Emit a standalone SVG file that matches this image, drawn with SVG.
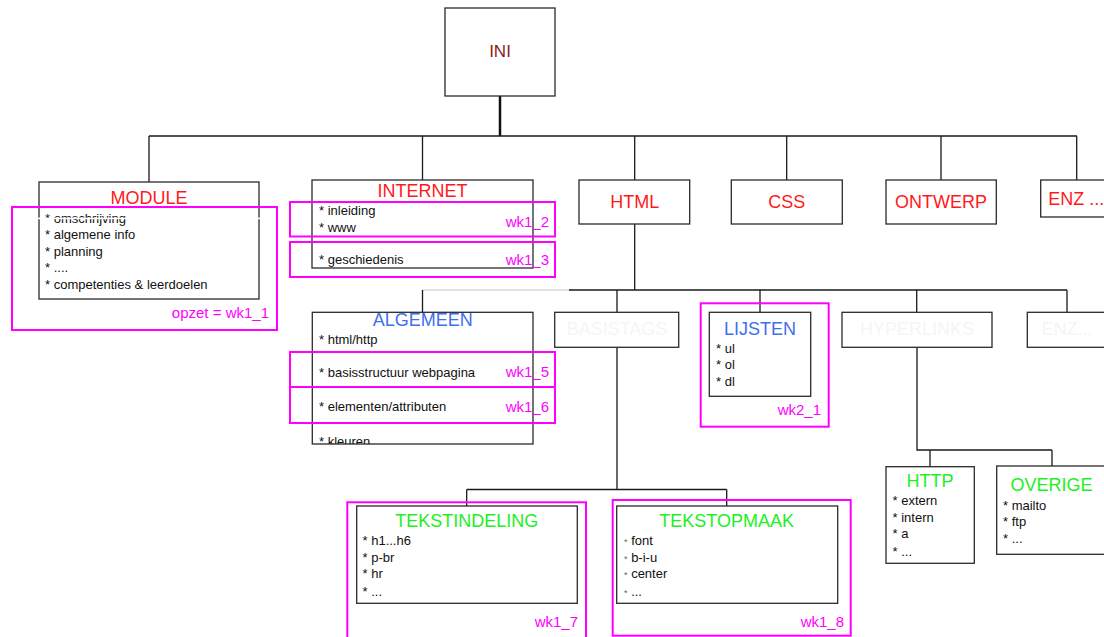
<svg xmlns="http://www.w3.org/2000/svg" width="1104" height="637" viewBox="0 0 1104 637">
<defs>
<style>
.box{fill:#fff;stroke:#2a2a2a;stroke-width:1.3}
.mag{fill:none;stroke:#ff00ff;stroke-width:2}
.con{fill:none;stroke:#1a1a1a;stroke-width:1.3}
.t{font-family:"Liberation Sans",Arial,sans-serif;font-size:18px;text-anchor:middle}
.red{fill:#ff1a1a}
.blue{fill:#3f6fee}
.green{fill:#1df01d}
.ghost{fill:#f5f5f5}
.it{font-family:"Liberation Sans",Arial,sans-serif;font-size:13px;fill:#111}
.lab{font-family:"Liberation Sans",Arial,sans-serif;font-size:15px;fill:#ff00ff;text-anchor:end}
</style>
<clipPath id="clipAlg"><rect x="312" y="312" width="221" height="132"/></clipPath>
</defs>
<rect width="1104" height="637" fill="#fff"/>

<g id="connectors">
<path d="M500,96 V136" fill="none" stroke="#111" stroke-width="2.5"/>
<path class="con" d="M149,136 H1077 M149,136 V182 M422.5,136 V180 M634.7,136 V180 M786.7,136 V180 M941,136 V180 M1076.7,136 V180"/>
<path class="con" d="M634.7,224 V290 M569,290 H1067"/>
<path d="M422.5,290 H569" fill="none" stroke="#c8c8c8" stroke-width="1.2"/>
<path class="con" d="M422.5,290 V312 M617,290 V312 M760,290 V312 M916.7,290 V312 M1067,290 V312"/>
<path class="con" d="M617,347 V489.5 M466.7,489.5 H726.7 M466.7,489.5 V506 M726.7,489.5 V506"/>
<path class="con" d="M917,347 V450 H1052 M930,450 V467 M1052,450 V466"/>
</g>

<g id="node-ini">
<rect class="box" x="445" y="8" width="110" height="88"/>
<text x="500" y="57" font-family="'Liberation Sans',Arial,sans-serif" font-size="17" text-anchor="middle" fill="#8b1a1a">INI</text>
</g>

<g id="node-module">
<rect class="box" x="39" y="182" width="220" height="117"/>
<text class="t red" x="149" y="204">MODULE</text>
<text class="it" x="45" y="222.5">* omschrijving</text>
<text class="it" x="45" y="239">* algemene info</text>
<text class="it" x="45" y="255.5">* planning</text>
<text class="it" x="45" y="272">* ....</text>
<text class="it" x="45" y="289">* competenties &amp; leerdoelen</text>
<rect x="38" y="217.6" width="222" height="1.6" fill="#fff"/>
</g>

<g id="node-internet">
<rect class="box" x="312" y="180" width="221" height="88"/>
<text class="t red" x="422.5" y="197">INTERNET</text>
<text class="it" x="319" y="214.5">* inleiding</text>
<text class="it" x="319" y="231.5">* www</text>
<text class="it" x="319" y="264">* geschiedenis</text>
</g>

<g id="node-html">
<rect class="box" x="579" y="180" width="110.7" height="44"/>
<text class="t red" x="634.7" y="207.7">HTML</text>
</g>

<g id="node-css">
<rect class="box" x="731.3" y="180" width="111" height="44"/>
<text class="t red" x="786.7" y="207.7">CSS</text>
</g>

<g id="node-ontwerp">
<rect class="box" x="886" y="180" width="110.3" height="44"/>
<text class="t red" x="941" y="207.7">ONTWERP</text>
</g>

<g id="node-enz1">
<rect class="box" x="1040.7" y="180" width="80" height="37"/>
<text class="t red" x="1048.3" y="205" style="text-anchor:start">ENZ ...</text>
</g>

<g id="node-algemeen">
<rect class="box" x="312.3" y="312.3" width="220.7" height="131.7"/>
<text class="t blue" x="422.7" y="326">ALGEMEEN</text>
<g clip-path="url(#clipAlg)">
<text class="it" x="319" y="344">* html/http</text>
<text class="it" x="319" y="377">* basisstructuur webpagina</text>
<text class="it" x="319" y="411">* elementen/attributen</text>
<text class="it" x="319" y="446">* kleuren</text>
</g>
</g>

<g id="node-basistags">
<rect class="box" x="554.7" y="312.3" width="124" height="35"/>
<text class="t ghost" x="617" y="335">BASISTAGS</text>
</g>

<g id="node-lijsten">
<rect class="box" x="709.3" y="312.3" width="101.4" height="84"/>
<text class="t blue" x="760" y="335">LIJSTEN</text>
<text class="it" x="716" y="352.7">* ul</text>
<text class="it" x="716" y="369.3">* ol</text>
<text class="it" x="716" y="386">* dl</text>
</g>

<g id="node-hyperlinks">
<rect class="box" x="842" y="312.3" width="150" height="35"/>
<text class="t ghost" x="917" y="335">HYPERLINKS</text>
</g>

<g id="node-enz2">
<rect class="box" x="1027.3" y="312.3" width="90" height="35"/>
<text class="t ghost" x="1067" y="335">ENZ...</text>
</g>

<g id="node-tekstindeling">
<rect class="box" x="356.7" y="506" width="220.6" height="97.3"/>
<text class="t green" x="466.7" y="526.7">TEKSTINDELING</text>
<text class="it" x="362.5" y="545">* h1...h6</text>
<text class="it" x="362.5" y="561.7">* p-br</text>
<text class="it" x="362.5" y="578.3">* hr</text>
<text class="it" x="362.5" y="595.5">* ...</text>
</g>

<g id="node-tekstopmaak">
<rect class="box" x="616.7" y="506" width="221" height="97.3"/>
<text class="t green" x="726.7" y="526.7">TEKSTOPMAAK</text>
<text class="it" x="624" y="545"><tspan font-size="9" fill="#666">*</tspan> font</text>
<text class="it" x="624" y="561.7"><tspan font-size="9" fill="#666">*</tspan> b-i-u</text>
<text class="it" x="624" y="578.3"><tspan font-size="9" fill="#666">*</tspan> center</text>
<text class="it" x="624" y="595.5"><tspan font-size="9" fill="#666">*</tspan> ...</text>
</g>

<g id="node-http">
<rect class="box" x="886" y="466.7" width="88.3" height="96.6"/>
<text class="t green" x="930" y="486.7">HTTP</text>
<text class="it" x="892.5" y="505">* extern</text>
<text class="it" x="892.5" y="521.7">* intern</text>
<text class="it" x="892.5" y="538.3">* a</text>
<text class="it" x="892.5" y="555.5">* ...</text>
</g>

<g id="node-overige">
<rect class="box" x="996.7" y="466" width="120" height="88.3"/>
<text class="t green" x="1051.5" y="490.7">OVERIGE</text>
<text class="it" x="1003" y="510">* mailto</text>
<text class="it" x="1003" y="525.7">* ftp</text>
<text class="it" x="1003" y="543">* ...</text>
</g>

<g id="markers">
<rect class="mag" x="12" y="207" width="265" height="123"/>
<text class="lab" x="269" y="318">opzet = wk1_1</text>
<rect class="mag" x="290" y="202" width="265" height="34.5"/>
<text class="lab" x="549" y="227">wk1_2</text>
<rect class="mag" x="290" y="242" width="265" height="35"/>
<text class="lab" x="549" y="265">wk1_3</text>
<rect class="mag" x="290" y="352" width="265" height="35"/>
<text class="lab" x="549" y="377">wk1_5</text>
<rect class="mag" x="290" y="387" width="265" height="36"/>
<text class="lab" x="549" y="411.5">wk1_6</text>
<rect class="mag" x="700.7" y="303.3" width="128" height="123.4"/>
<text class="lab" x="821" y="415">wk2_1</text>
<rect class="mag" x="347.3" y="502.3" width="238.7" height="150"/>
<text class="lab" x="578" y="627">wk1_7</text>
<rect class="mag" x="612.7" y="500" width="238" height="135.7"/>
<text class="lab" x="844" y="627">wk1_8</text>
</g>
</svg>
